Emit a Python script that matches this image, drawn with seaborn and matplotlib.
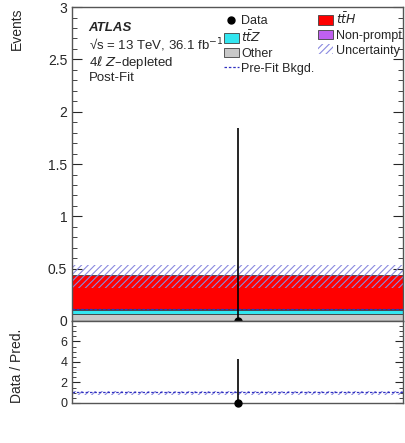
import numpy as np
import pandas as pd
import seaborn as sns
import matplotlib
matplotlib.use("Agg")
import matplotlib.pyplot as plt
from matplotlib.patches import Patch
from matplotlib.lines import Line2D
from matplotlib.ticker import MultipleLocator, FuncFormatter

sns.set_style("ticks")
plt.rcParams['font.family'] = ['Liberation Sans', 'DejaVu Sans']
plt.rcParams['hatch.color'] = '#8a8ae0'
plt.rcParams['hatch.linewidth'] = 0.8

# data
processes = ["Other", "ttZ", "Non-prompt", "ttH"]
yields = [0.07, 0.035, 0.005, 0.325]
colors = ["#c8c8c8", "#33e6f0", "#c060f0", "#ff0000"]
data_obs = [0.0]
data_err_up = [1.84]
unc_low, unc_high = 0.32, 0.535
prefit_bkgd = 0.11
ratio_err_up = [4.28]
ratio_unc_low, ratio_unc_high = 0.8, 1.2
ratio_prefit = 1.1

df = pd.DataFrame({"x": [0.5] * len(processes), "process": processes, "w": yields})

fig = plt.figure(figsize=(4.05, 4.43), dpi=100)
ax = fig.add_axes([0.178, 0.2754, 0.817, 0.7086])
rax = fig.add_axes([0.178, 0.0903, 0.817, 0.1851], sharex=ax)

sns.histplot(data=df, x="x", weights="w", hue="process", hue_order=processes[::-1],
             multiple="stack", bins=[0, 1], palette=dict(zip(processes, colors)),
             alpha=1, edgecolor="#404040", linewidth=0.6, legend=False, ax=ax)

ax.fill_between([0, 1], unc_low, unc_high, facecolor="none", hatch="/////",
                edgecolor="#8a8ae0", linewidth=0)
ax.plot([0, 1], [prefit_bkgd, prefit_bkgd], ls=(0, (2, 1.5)), color="#3030c0", lw=0.9)
ax.errorbar([0.5], data_obs, yerr=[[0], data_err_up], fmt="o", color="black",
            ms=5, lw=1.2, capsize=0, zorder=5, clip_on=False)

ax.set_xlim(0, 1)
ax.set_ylim(0, 3)
ax.yaxis.set_major_locator(MultipleLocator(0.5))
ax.yaxis.set_minor_locator(MultipleLocator(0.1))
ax.yaxis.set_major_formatter(FuncFormatter(lambda v, p: f"{v:g}"))
ax.set_xlabel("")
ax.set_ylabel("Events", fontsize=10)
ax.tick_params(axis="y", which="both", direction="in", right=True, labelsize=10)
ax.tick_params(axis="y", which="major", length=7)
ax.tick_params(axis="y", which="minor", length=3.5)
ax.tick_params(axis="x", which="both", bottom=False, top=False, labelbottom=False)

tk = dict(transform=ax.transAxes, fontsize=9.5, va="center")
ax.text(0.05, 0.933, "ATLAS", weight="bold", style="italic", **tk)
ax.text(0.05, 0.879, "√s = 13 TeV, 36.1 fb$^{-1}$", **tk)
ax.text(0.05, 0.825, "4$\\ell$ $Z$–depleted", **tk)
ax.text(0.05, 0.774, "Post-Fit", **tk)

handles = [
    Line2D([], [], marker="o", color="black", ls="none", ms=5),
    Patch(facecolor=colors[1], edgecolor="#404040", lw=0.6),
    Patch(facecolor=colors[0], edgecolor="#404040", lw=0.6),
    Line2D([], [], ls=(0, (2, 1.5)), color="#3030c0", lw=0.9),
    Patch(facecolor=colors[3], edgecolor="#404040", lw=0.6),
    Patch(facecolor=colors[2], edgecolor="#404040", lw=0.6),
    Patch(facecolor="none", edgecolor="#8a8ae0", hatch="/////", lw=0),
]
labels = ["Data", "$t\\bar{t}Z$", "Other", "Pre-Fit Bkgd.", "$t\\bar{t}H$", "Non-prompt", "Uncertainty"]
ax.legend(handles, labels, ncol=2, loc="upper left", bbox_to_anchor=(0.44, 1.005),
          frameon=False, fontsize=9, handlelength=1.2, handleheight=0.8,
          handletextpad=0.2, labelspacing=0.2, columnspacing=0.3, borderpad=0)

# ratio
rax.fill_between([0, 1], ratio_unc_low, ratio_unc_high, facecolor="none", hatch="/////",
                 edgecolor="#8a8ae0", linewidth=0)
rax.plot([0, 1], [ratio_prefit, ratio_prefit], ls=(0, (2, 1.5)), color="#3030c0", lw=0.9)
rax.errorbar([0.5], [0], yerr=[[0], ratio_err_up], fmt="o", color="black",
             ms=5, lw=1.2, capsize=0, zorder=5, clip_on=False)
rax.set_ylim(0, 8)
rax.set_yticks([0, 2, 4, 6])
rax.yaxis.set_minor_locator(MultipleLocator(0.5))
rax.set_ylabel("Data / Pred.", fontsize=10)
rax.tick_params(axis="y", which="both", direction="in", right=True, labelsize=9)
rax.tick_params(axis="y", which="major", length=6)
rax.tick_params(axis="y", which="minor", length=3)
rax.tick_params(axis="x", which="both", bottom=False, top=False, labelbottom=False)
rax.set_xlabel("")

for a in (ax, rax):
    for s in a.spines.values():
        s.set_color("#555555")
        s.set_linewidth(1.0)

ax.yaxis.set_label_coords(-0.145, 1.0)
ax.yaxis.label.set_ha("right")
rax.yaxis.set_label_coords(-0.145, 0.45)

fig.savefig("out.png", dpi=100)
